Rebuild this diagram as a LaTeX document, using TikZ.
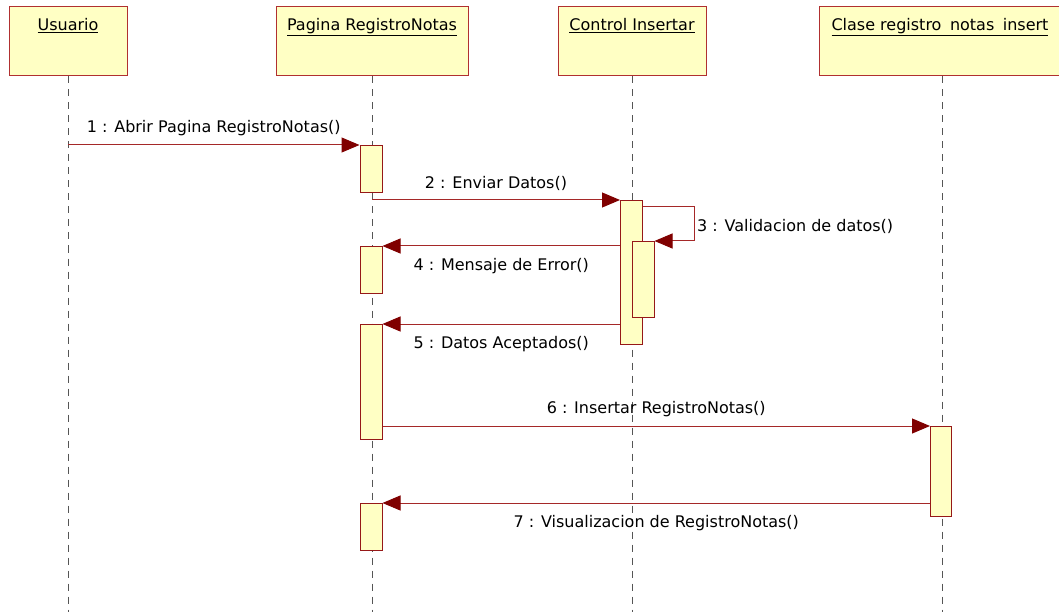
\documentclass[tikz,border=0pt]{standalone}
\usepackage{fontspec}
\setmainfont{DejaVu Sans}
\usetikzlibrary{arrows.meta}
\definecolor{boxfill}{RGB}{255,255,196}
\definecolor{boxline}{RGB}{176,48,48}
\definecolor{actline}{RGB}{150,24,24}
\definecolor{msgline}{RGB}{165,40,40}
\definecolor{tipred}{RGB}{128,0,0}
\definecolor{lifegray}{RGB}{85,85,85}

\begin{document}
\begin{tikzpicture}[x=1pt, y=-1pt,
  head/.style={draw=boxline, fill=boxfill, line width=1pt, minimum height=69pt, inner sep=0pt},
  act/.style={draw=actline, fill=boxfill, line width=1pt, minimum width=22pt, anchor=north, inner sep=0pt},
  title/.style={font=\fontsize{16}{19}\selectfont, inner sep=0pt},
  lbl/.style={font=\fontsize{16}{19}\selectfont, inner sep=0pt},
  life/.style={draw=lifegray, line width=1pt, dash pattern=on 7pt off 6pt},
  msg/.style={draw=msgline, line width=1pt, -{Triangle[length=18pt,width=15pt,color=tipred]}}]
\useasboundingbox (0,0) rectangle (1059,612);
\clip (0,0) rectangle (1059,612);
\coordinate (bot) at (0,612);

% objects
\node[head, minimum width=118pt] (usr) at (68,41.5) {};
\node[head, minimum width=192pt] (pag) at (372,41.5) {};
\node[head, minimum width=148pt] (ctl) at (632,41.5) {};
\node[head, minimum width=246pt] (cls) at (942,41.5) {};
\node[title, below=12pt] (tusr) at (usr.north) {\underline{Usuario}};
\node[title, below=12pt] (tpag) at (pag.north) {\underline{Pagina RegistroNotas}};
\node[title, below=12pt] (tctl) at (ctl.north) {\underline{Control Insertar}};
\node[title, below=12pt] (tcls) at ([xshift=-2pt]cls.north) {\underline{Clase registro\hspace{8.5pt}notas\hspace{8.5pt}insert}};

% lifelines
\foreach \n in {usr,pag,ctl,cls}
  \draw[life] (\n.south) -- (\n.south |- bot);

% activations
\node[act, minimum height=47pt] (a1) at (371,145) {};
\node[act, minimum height=47pt] (a2) at (371,246) {};
\node[act, minimum height=115pt] (a3) at (371,324) {};
\node[act, minimum height=47pt] (a4) at (371,503) {};
\node[act, minimum height=144pt] (b1) at (631.5,200) {};
\node[act, minimum height=76pt] (b2) at (643,241) {};
\node[act, minimum height=90pt, minimum width=21pt] (c1) at (941,426) {};

% messages
\draw[msg] (usr |- a1.north) -- (a1.north west)
  node[lbl, midway, above=9pt] (l1) {1 : Abrir Pagina RegistroNotas()};
\draw[msg] (pag |- b1.north) -- (b1.north west)
  node[lbl, midway, above=9pt] (l2) {2 : Enviar Datos()};
\draw[msg] ([yshift=-7pt]b1.north east) -- ++(51,0) |- (b2.north east);
\node[lbl, anchor=west] (l3) at (697,226) {3 : Validacion de datos()};
\draw[msg] (b1.west |- a2.north) -- (a2.north east)
  node[lbl, midway, below=12pt] (l4) {4 : Mensaje de Error()};
\draw[msg] (b1.west |- a3.north) -- (a3.north east)
  node[lbl, midway, below=12pt] (l5) {5 : Datos Aceptados()};
\draw[msg] (a3.east |- c1.north) -- (c1.north west)
  node[lbl, midway, above=9pt] (l6) {6 : Insertar RegistroNotas()};
\draw[msg] (c1.west |- a4.north) -- (a4.north east)
  node[lbl, midway, below=12pt] (l7) {7 : Visualizacion de RegistroNotas()};
\end{tikzpicture}
\end{document}
